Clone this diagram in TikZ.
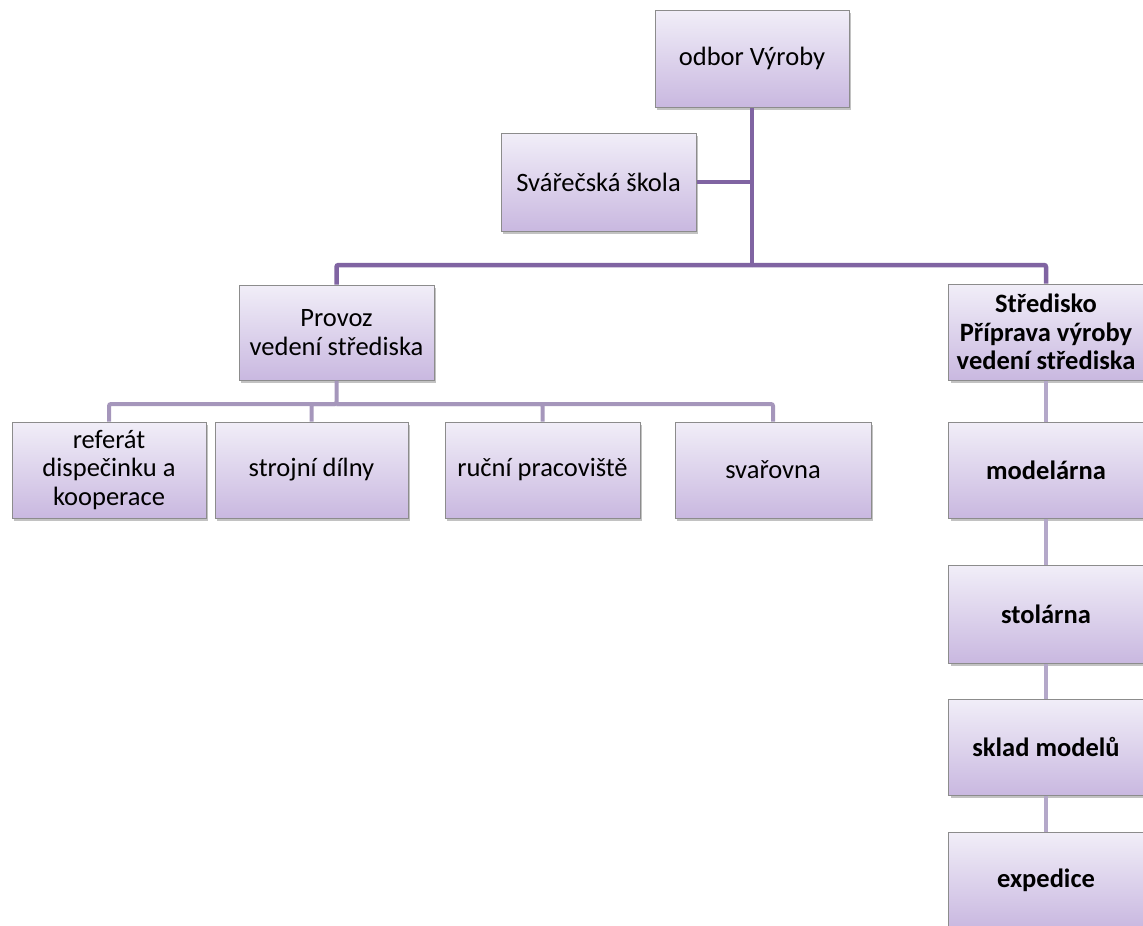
\documentclass[tikz,border=0pt]{standalone}
\usepackage{fontspec}
\setmainfont{Carlito}
\usetikzlibrary{shadows}
\definecolor{boxtop}{HTML}{F1EEF8}
\definecolor{boxbot}{HTML}{C9B8E0}
\definecolor{boxedge}{HTML}{8C8C8C}
\definecolor{mainline}{HTML}{8064A2}
\definecolor{rowline}{HTML}{A596BB}
\definecolor{colline}{HTML}{B4A8C9}
\tikzset{
  orgbox/.style={draw=boxedge, line width=1pt, top color=boxtop, bottom color=boxbot,
    minimum width=195pt, minimum height=96pt, inner sep=2pt, align=center,
    font=\fontsize{26.5}{28.5}\selectfont,
    drop shadow={shadow xshift=2pt, shadow yshift=-3pt, opacity=0.4, fill=black!60}},
  boldbox/.style={orgbox, font=\fontsize{26.5}{28.5}\selectfont\bfseries},
  mainlink/.style={draw=mainline, line width=4.5pt, rounded corners=2pt},
  rowlink/.style={draw=rowline, line width=4pt, rounded corners=2pt},
  collink/.style={draw=colline, line width=4pt},
}
\begin{document}
\begin{tikzpicture}[x=1pt, y=-1pt]
\useasboundingbox (0,0) rectangle (1143,926);
\clip (0,0) rectangle (1143,926);

% heights of the two horizontal buses
\coordinate (bus) at (0,265);
\coordinate (rowbus) at (0,404);

% boxes
\node[orgbox, minimum width=194pt, minimum height=97pt] (vyr) at (752,58.5) {odbor Výroby};
\node[orgbox, minimum height=98pt] (skola) at (598.5,182) {Svářečská škola};
\node[orgbox, minimum height=95pt] (prov) at (336.5,332.5) {Provoz\\vedení střediska};
\node[boldbox] (stred) at (1046,332) {Středisko\\Příprava výroby\\vedení střediska};

\node[orgbox, minimum width=194pt] (ref) at (109,470) {referát\\dispečinku a\\kooperace};
\node[orgbox, minimum width=193pt] (stroj) at (311.5,470) {strojní dílny};
\node[orgbox] (rucni) at (542.5,470) {ruční pracoviště};
\node[orgbox, minimum width=196pt] (svar) at (773,470) {svařovna};

\node[boldbox] (model) at (1046,470) {modelárna};
\node[boldbox, minimum height=98pt] (stol) at (1046,614) {stolárna};
\node[boldbox] (sklad) at (1046,747) {sklad modelů};
\node[boldbox] (exped) at (1046,880) {expedice};

% links from the head office
\path[mainlink] (vyr.south) -- (vyr.south |- bus);
\path[mainlink] (skola.east) -- (skola.east -| vyr.south);
\path[mainlink] (vyr.south |- bus) -| (prov.north);
\path[mainlink] (vyr.south |- bus) -| (stred.north);

% links of the production unit
\path[rowlink] (prov.south) -- (prov.south |- rowbus) -| (ref.north);
\path[rowlink] (prov.south |- rowbus) -| (stroj.north);
\path[rowlink] (prov.south |- rowbus) -| (rucni.north);
\path[rowlink] (prov.south |- rowbus) -| (svar.north);

% chain of the preparation unit
\path[collink] (stred.south) -- (model.north);
\path[collink] (model.south) -- (stol.north);
\path[collink] (stol.south) -- (sklad.north);
\path[collink] (sklad.south) -- (exped.north);
\end{tikzpicture}
\end{document}
